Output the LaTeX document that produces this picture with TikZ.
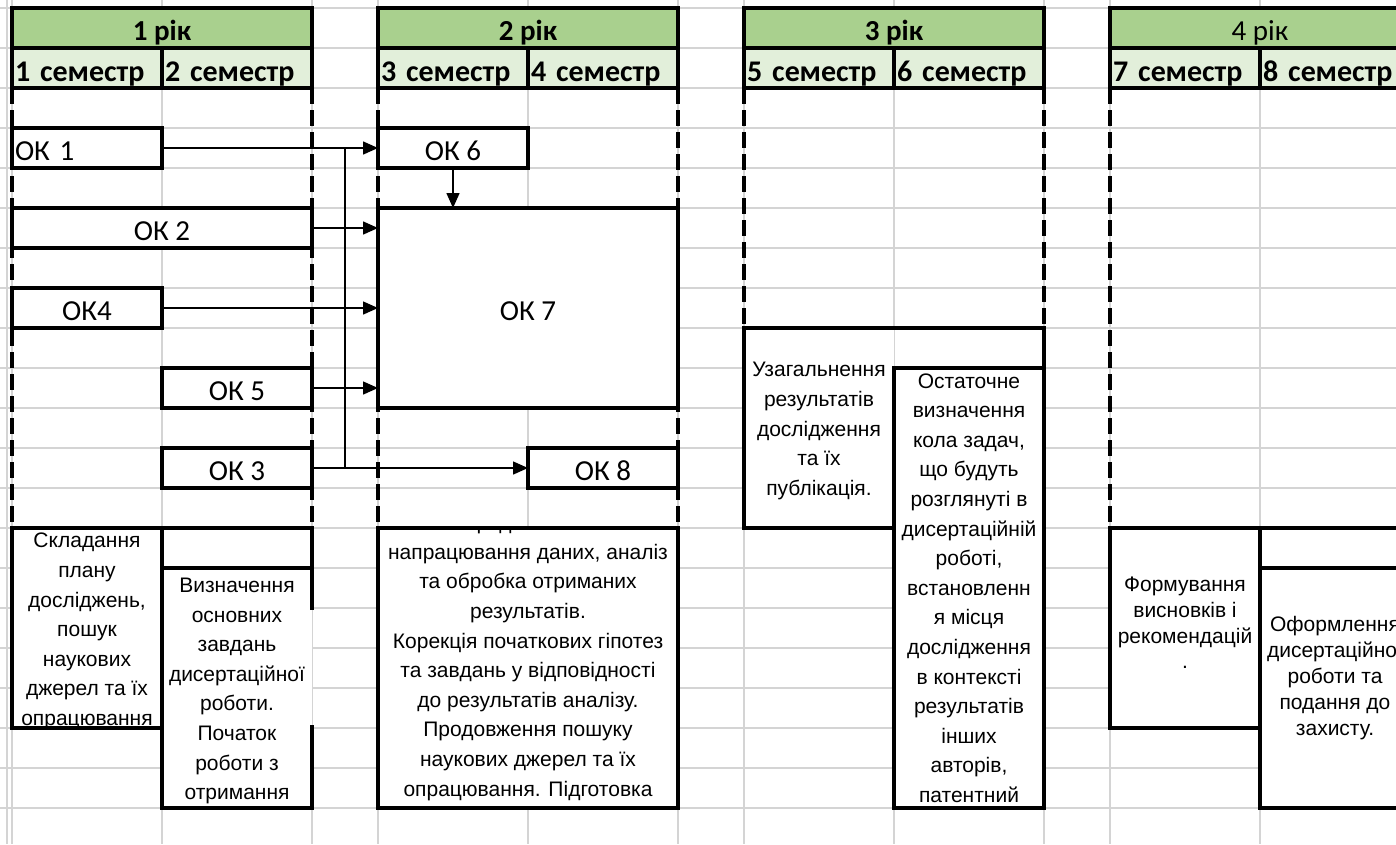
\documentclass[tikz,border=0pt]{standalone}
\usepackage{fontspec}
\setmainfont{Liberation Sans}
\newfontfamily\headfont{Carlito}
\usetikzlibrary{arrows.meta}
\definecolor{yeargreen}{RGB}{169,208,142}
\definecolor{semgreen}{RGB}{226,239,218}
\definecolor{gridgray}{RGB}{212,212,212}

\begin{document}
\begin{tikzpicture}[x=1pt, y=-1pt]
    % Define styles
    \tikzset{
        gridline/.style={gridgray, line width=1.5pt},
        frame/.style={black, line width=3.5pt, line cap=rect},
        sepline/.style={black, line width=3.5pt, dash pattern=on 16pt off 6pt},
        yearcell/.style={draw, line width=3.5pt, fill=yeargreen, minimum width=300pt, minimum height=40pt,
            inner sep=0pt, outer sep=0pt, font=\headfont\fontsize{29}{29}\selectfont, text height=25pt, text depth=0pt},
        semcell/.style={draw, line width=3.5pt, fill=semgreen, minimum width=150pt, minimum height=40pt,
            inner xsep=3pt, inner ysep=0pt, outer sep=0pt, text width=144pt, align=left,
            font=\headfont\bfseries\fontsize{30}{30}\selectfont, text height=26pt, text depth=0pt},
        okbox/.style={draw, line width=3.5pt, fill=white, minimum height=40pt, inner sep=0pt, outer sep=0pt,
            font=\headfont\fontsize{29}{29}\selectfont, text height=25pt, text depth=0pt},
        descbox/.style={fill=white, inner sep=0pt, outer sep=0pt},
        desctext/.style={align=center, inner sep=0pt, font=\fontsize{21}{29.6}\selectfont},
        link/.style={black, line width=1.5pt},
        arrow/.style={link, -{Triangle[length=15pt, width=13pt]}}
    }

    \useasboundingbox (0,0) rectangle (1396,844);
    \clip (0,0) rectangle (1396,844);
    \fill[white] (0,0) rectangle (1396,844);

    % Draw spreadsheet grid
    \foreach \y in {8,48,...,848}
        \draw[gridline] (0,\y) -- (1396,\y);
    \foreach \x in {7,12,162,312,378,528,678,744,894,1044,1110,1260}
        \draw[gridline] (\x,0) -- (\x,844);

    % Year and semester headers
    \foreach \i/\yrfont in {1/\bfseries, 2/\bfseries, 3/\bfseries, 4/\mdseries} {
        \pgfmathsetmacro{\xl}{12+366*(\i-1)}
        \pgfmathtruncatemacro{\sa}{2*\i-1}
        \pgfmathtruncatemacro{\sb}{2*\i}
        \node[semcell] (sem\sa) at (\xl+75,68) {\sa{} семестр};
        \node[semcell] (sem\sb) at (\xl+225,68) {\sb{} семестр};
        \node[yearcell] (year\i) at (\xl+150,28) {\yrfont\i{} рік};
    }

    % Dashed year boundaries
    \foreach \x/\yend in {12/528, 312/528, 378/528, 678/528, 744/328, 1044/328, 1110/528}
        \draw[sepline] (\x,88) -- (\x,\yend);

    % Course components
    \node[okbox, minimum width=150pt, text width=144pt, align=left] (ok1) at (87,148) {ОК 1};
    \node[okbox, minimum width=300pt] (ok2) at (162,228) {ОК 2};
    \node[okbox, minimum width=150pt] (ok4) at (87,308) {ОК4};
    \node[okbox, minimum width=150pt] (ok5) at (237,388) {ОК 5};
    \node[okbox, minimum width=150pt] (ok3) at (237,468) {ОК 3};
    \node[okbox, minimum width=150pt] (ok6) at (453,148) {ОК 6};
    \node[okbox, minimum width=300pt, minimum height=200pt] (ok7) at (528,308) {ОК 7};
    \node[okbox, minimum width=150pt] (ok8) at (603,468) {ОК 8};

    % Prerequisite links
    \coordinate (bus) at (345,0);
    \draw[link] (bus |- ok1.east) -- (bus |- ok3.east);
    \draw[arrow] (ok1.east) -- (ok6.west);
    \draw[arrow] (ok2.east) -- (ok2.east -| ok7.west);
    \draw[arrow] (ok4.east) -- (ok4.east -| ok7.west);
    \draw[arrow] (ok5.east) -- (ok5.east -| ok7.west);
    \draw[arrow] (ok3.east) -- (ok8.west);
    \draw[arrow] (ok6.south) -- (ok6.south |- ok7.north);

    % Year 1 activities
    \node[descbox, minimum width=150pt, minimum height=200pt] (plan) at (87,628) {};
    \node[descbox, minimum width=150pt, minimum height=240pt] (tasks) at (237,688) {};
    \begin{scope}
        \clip (plan.north west) rectangle (plan.south east);
        \node[desctext] (plantext) at ([yshift=-3.5pt]plan.center)
            {Складання\\плану\\досліджень,\\пошук\\наукових\\джерел та їх\\опрацювання};
    \end{scope}
    \node[desctext] (taskstext) at ([yshift=-3pt]tasks.center)
        {Визначення\\основних\\завдань\\дисертаційної\\роботи.\\Початок\\роботи з\\отримання};
    \draw[frame] (plan.north west) rectangle (plan.south east);
    \draw[frame] (tasks.south east) -- (tasks.south west) -- (tasks.north west) -- (tasks.north east);
    \draw[frame] (plan.north west) -- (plan.north west -| tasks.east) -- ++(0,80);
    \draw[frame] (tasks.south east) -- ++(0,-81);

    % Year 2 activities
    \node[descbox, minimum width=300pt, minimum height=280pt] (analysis) at (528,668) {};
    \begin{scope}
        \clip (analysis.north west) rectangle (analysis.south east);
        \node[desctext, anchor=north] (analysistext) at ([yshift=13pt]analysis.north)
            {Продовження\\напрацювання даних, аналіз\\та обробка отриманих\\результатів.\\Корекція початкових гіпотез\\та завдань у відповідності\\до результатів аналізу.\\Продовження пошуку\\наукових джерел та їх\\опрацювання. Підготовка};
    \end{scope}
    \draw[frame] (analysis.north west) rectangle (analysis.south east);

    % Year 3 activities
    \node[descbox, minimum width=150pt, minimum height=200pt] (summary) at (819,428) {};
    \node[descbox, minimum width=150pt, minimum height=440pt] (finaltasks) at (969,588) {};
    \node[desctext] (summarytext) at ([yshift=-3pt]summary.center)
        {Узагальнення\\результатів\\дослідження\\та їх\\публікація.};
    \node[desctext] (finaltext) at (finaltasks.center)
        {Остаточне\\визначення\\кола задач,\\що будуть\\розглянуті в\\дисертаційній\\роботі,\\встановленн\\я місця\\дослідження\\в контексті\\результатів\\інших\\авторів,\\патентний};
    \draw[frame] (finaltasks.north west) rectangle (finaltasks.south east);
    \draw[frame] (summary.south east) -- (summary.south west) -- (summary.north west)
        -- (summary.north west -| finaltasks.east) -- (finaltasks.north east);

    % Year 4 activities
    \node[descbox, minimum width=150pt, minimum height=200pt] (conclusions) at (1185,628) {};
    \node[descbox, minimum width=150pt, minimum height=240pt] (defence) at (1335,688) {};
    \node[desctext, font=\fontsize{21}{25.8}\selectfont] (conclusionstext) at ([yshift=5pt]conclusions.center)
        {Формування\\висновків і\\рекомендацій\\.};
    \node[desctext, font=\fontsize{21}{25.8}\selectfont] (defencetext) at ([yshift=10pt]defence.center)
        {Оформлення\\дисертаційної\\роботи та\\подання до\\захисту.};
    \draw[frame] (conclusions.north west) rectangle (conclusions.south east);
    \draw[frame] (defence.north west) rectangle (defence.south east);
    \draw[frame] (conclusions.north east) -- ++(150,0);

\end{tikzpicture}
\end{document}
